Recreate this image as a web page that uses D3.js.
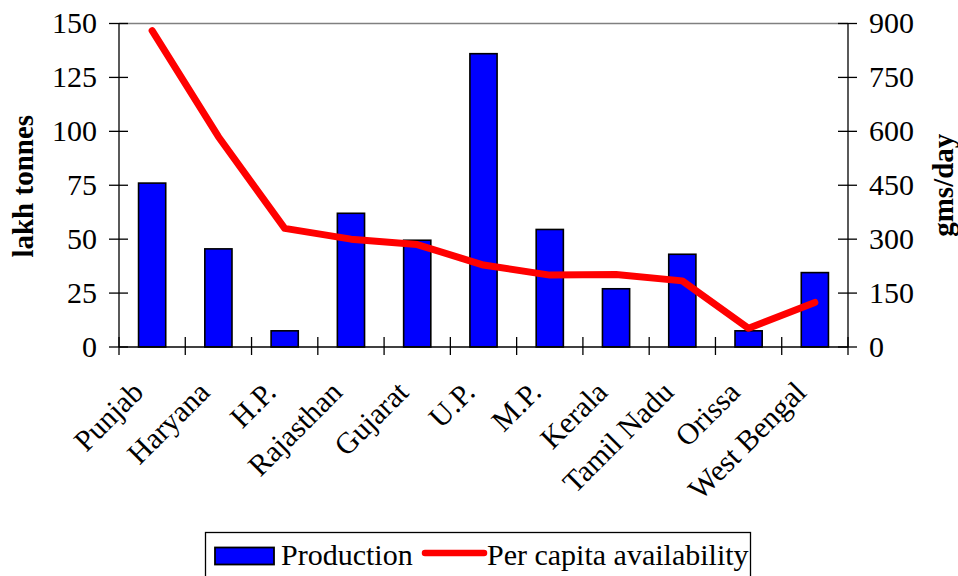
<!DOCTYPE html>
<html><head><meta charset="utf-8">
<script src="https://cdn.jsdelivr.net/npm/d3@7/dist/d3.min.js"></script>
<style>body{margin:0;background:#fff}svg{display:block}</style>
</head><body><svg id="c" width="958" height="576" font-family="'Liberation Serif', 'DejaVu Serif', 'Times New Roman', serif"></svg>
<script>
const categories = ["Punjab","Haryana","H.P.","Rajasthan","Gujarat","U.P.","M.P.","Kerala","Tamil Nadu","Orissa","West Bengal"];
const production = [76, 45.5, 7.5, 62, 49.5, 136, 54.5, 27, 43, 7.5, 34.5];
const perCapita = [880, 585, 330, 300, 285, 228, 200, 202, 184, 52, 124];
const leftTicks = [0,25,50,75,100,125,150];
const rightTicks = [0,150,300,450,600,750,900];

const svg = d3.select("#c");
const L = 119, R = 848, T = 23.5, B = 347;
const FS = 30;
const x = d3.scaleBand().domain(categories).range([L, R]).paddingInner(0).paddingOuter(0);
const yL = d3.scaleLinear().domain([0,150]).range([B, T]);
const yR = d3.scaleLinear().domain([0,900]).range([B, T]);

svg.append("line").attr("x1",L).attr("x2",R).attr("y1",T).attr("y2",T).attr("stroke","#808080").attr("stroke-width",1.5);

const bw = x.bandwidth()*0.41;
svg.selectAll("rect.bar").data(production).join("rect")
  .attr("x",(d,i)=>x(categories[i])+x.bandwidth()/2-bw/2)
  .attr("y",d=>yL(d)).attr("width",bw).attr("height",d=>B-yL(d))
  .attr("fill","#0000ff").attr("stroke","#000").attr("stroke-width",1.6);

const gL = svg.append("g");
gL.append("line").attr("x1",L).attr("x2",L).attr("y1",T).attr("y2",B).attr("stroke","#000").attr("stroke-width",1.3);
leftTicks.forEach(t=>{
  gL.append("line").attr("x1",L-10).attr("x2",L+9).attr("y1",yL(t)).attr("y2",yL(t)).attr("stroke","#000").attr("stroke-width",1.3);
  gL.append("text").attr("x",L-22).attr("y",yL(t)).attr("dy","0.33em").attr("text-anchor","end").attr("font-size",FS).text(t);
});
const gR = svg.append("g");
gR.append("line").attr("x1",R).attr("x2",R).attr("y1",T).attr("y2",B).attr("stroke","#000").attr("stroke-width",1.3);
rightTicks.forEach(t=>{
  gR.append("line").attr("x1",R-10).attr("x2",R+9).attr("y1",yR(t)).attr("y2",yR(t)).attr("stroke","#000").attr("stroke-width",1.3);
  gR.append("text").attr("x",R+21).attr("y",yR(t)).attr("dy","0.33em").attr("text-anchor","start").attr("font-size",FS).text(t);
});
svg.append("line").attr("x1",L).attr("x2",R).attr("y1",B).attr("y2",B).attr("stroke","#000").attr("stroke-width",1.3);
categories.forEach((c,i)=>{
  const xx = x(c);
  svg.append("line").attr("x1",xx).attr("x2",xx).attr("y1",B-10).attr("y2",B+8).attr("stroke","#000").attr("stroke-width",1.3);
  const cx = xx + x.bandwidth()/2;
  svg.append("text").attr("transform",`translate(${cx-7},${B+47}) rotate(-45)`)
    .attr("text-anchor","end").attr("font-size",FS).text(c);
});
svg.append("line").attr("x1",R).attr("x2",R).attr("y1",B-10).attr("y2",B+8).attr("stroke","#000").attr("stroke-width",1.3);

const line = d3.line().x((d,i)=>x(categories[i])+x.bandwidth()/2).y(d=>yR(d));
svg.append("path").datum(perCapita).attr("d",line).attr("fill","none")
  .attr("stroke","#ff0000").attr("stroke-width",7).attr("stroke-linejoin","round").attr("stroke-linecap","round");

svg.append("text").attr("transform",`translate(33,${(T+B)/2+1}) rotate(-90)`).attr("text-anchor","middle")
  .attr("font-size",29).attr("font-weight","bold").text("lakh tonnes");
svg.append("text").attr("transform",`translate(953,${(T+B)/2}) rotate(-90)`).attr("text-anchor","middle")
  .attr("font-size",29).attr("font-weight","bold").text("gms/day");

const lg = svg.append("g");
lg.append("rect").attr("x",205.5).attr("y",532.5).attr("width",545).attr("height",60).attr("fill","#fff").attr("stroke","#000").attr("stroke-width",1.3);
lg.append("rect").attr("x",215).attr("y",547.5).attr("width",59).attr("height",17).attr("fill","#0000ff").attr("stroke","#000").attr("stroke-width",1.8);
lg.append("text").attr("x",281).attr("y",565).attr("font-size",FS).text("Production");
lg.append("line").attr("x1",425).attr("x2",484).attr("y1",553).attr("y2",553).attr("stroke","#ff0000").attr("stroke-width",6.5).attr("stroke-linecap","round");
lg.append("text").attr("x",487).attr("y",565).attr("font-size",FS).text("Per capita availability");
</script></body></html>
